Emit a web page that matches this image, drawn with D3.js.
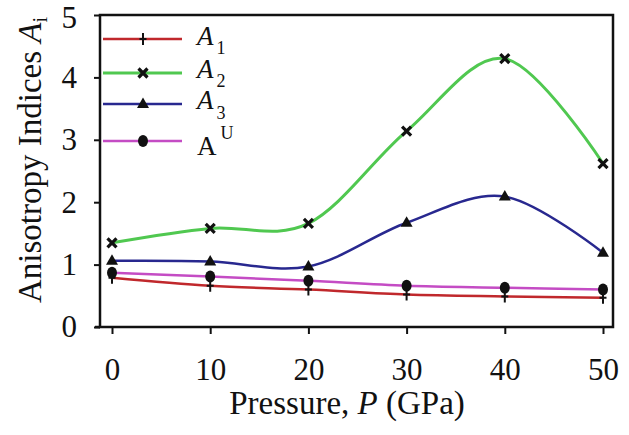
<!DOCTYPE html>
<html lang="en">
<head>
    <meta charset="utf-8">
    <title>Anisotropy indices vs pressure</title>
    <script type="text/javascript" src="https://cdn.jsdelivr.net/npm/d3@7"></script>
    <style type="text/css">
        body { margin: 0; background: #fff; }
        text { font-family: "Liberation Serif", "Times New Roman", serif; fill: #111; }
    </style>
</head>
<body>
    <script type="text/javascript">

			//Width and height
			var w = 629;
			var h = 435;

			//Data
			var pressure = [0, 10, 20, 30, 40, 50];
			var a1 = [0.79, 0.66, 0.60, 0.52, 0.49, 0.47];
			var a2 = [1.35, 1.58, 1.66, 3.14, 4.30, 2.62];
			var a3 = [1.06, 1.05, 0.97, 1.67, 2.09, 1.19];
			var aU = [0.87, 0.81, 0.74, 0.66, 0.63, 0.60];
			var xTicks = [0, 10, 20, 30, 40, 50];
			var yTicks = [0, 1, 2, 3, 4, 5];

			var series = [
				{ name: "A", sub: "1", italic: true, values: a1, color: "#c0282c", marker: "plus", width: 2.5 },
				{ name: "A", sub: "2", italic: true, values: a2, color: "#50c850", marker: "cross", width: 3 },
				{ name: "A", sub: "3", italic: true, values: a3, color: "#28288f", marker: "triangle", width: 2.5 },
				{ name: "A", sup: "U", italic: false, values: aU, color: "#c44cc4", marker: "circle", width: 2.5 }
			];

			//Plot box
			var box = { left: 100, right: 613, top: 15, bottom: 327 };

			var x = d3.scaleLinear().domain([0, 50]).range([112, 603]);
			var y = d3.scaleLinear().domain([0, 5]).range([327, 15]);

			var svg = d3.select("body")
						.append("svg")
						.attr("width", w)
						.attr("height", h);

			//Axes
			var yAxis = svg.append("g")
				.attr("transform", "translate(" + box.left + ",0)")
				.call(d3.axisLeft(y).tickValues(yTicks).tickSize(6).tickPadding(17).tickFormat(d3.format("d")));
			var xAxis = svg.append("g")
				.attr("transform", "translate(0," + box.bottom + ")")
				.call(d3.axisBottom(x).tickValues(xTicks).tickSize(7).tickPadding(24).tickFormat(d3.format("d")));

			[xAxis, yAxis].forEach(function(g) {
				g.select(".domain").remove();
				g.selectAll(".tick line").attr("stroke", "#111").attr("stroke-width", 2);
				g.selectAll(".tick text").style("font-size", "31px").attr("fill", "#111")
				 .style("font-family", "'Liberation Serif', serif");
			});
			yAxis.select(".tick:last-of-type text").attr("dy", "0.4em");

			//Frame
			svg.append("rect")
				.attr("x", box.left)
				.attr("y", box.top)
				.attr("width", box.right - box.left)
				.attr("height", box.bottom - box.top)
				.attr("fill", "none")
				.attr("stroke", "#111")
				.attr("stroke-width", 2.5);
			svg.append("line")
				.attr("x1", box.left - 5).attr("x2", box.left)
				.attr("y1", box.bottom).attr("y2", box.bottom)
				.attr("stroke", "#111").attr("stroke-width", 2.5);

			//Smooth lines
			var line = d3.line()
				.x(function(d, i) { return x(pressure[i]); })
				.y(function(d) { return y(d); })
				.curve(d3.curveCardinal.tension(0));

			series.forEach(function(s) {
				svg.append("path")
					.datum(s.values)
					.attr("d", line)
					.attr("fill", "none")
					.attr("stroke", s.color)
					.attr("stroke-width", s.width);
			});

			//Markers
			function drawMarker(g, type, cx, cy) {
				if (type == "plus") {
					g.append("path")
						.attr("d", "M" + cx + "," + (cy - 6) + "V" + (cy + 6) + "M" + (cx - 3.5) + "," + cy + "H" + (cx + 3.5))
						.attr("stroke", "#111").attr("stroke-width", 2).attr("fill", "none");
				} else if (type == "cross") {
					g.append("path")
						.attr("d", "M" + (cx - 4.5) + "," + (cy - 4.5) + "L" + (cx + 4.5) + "," + (cy + 4.5) +
							"M" + (cx - 4.5) + "," + (cy + 4.5) + "L" + (cx + 4.5) + "," + (cy - 4.5))
						.attr("stroke", "#111").attr("stroke-width", 3.2).attr("fill", "none");
				} else if (type == "triangle") {
					g.append("path")
						.attr("d", "M" + cx + "," + (cy - 6.5) + "L" + (cx + 6) + "," + (cy + 4) + "L" + (cx - 6) + "," + (cy + 4) + "Z")
						.attr("fill", "#111");
				} else {
					g.append("ellipse")
						.attr("cx", cx).attr("cy", cy)
						.attr("rx", 5).attr("ry", 6)
						.attr("fill", "#111");
				}
			}

			series.forEach(function(s) {
				var g = svg.append("g");
				s.values.forEach(function(v, i) {
					drawMarker(g, s.marker, x(pressure[i]), y(v));
				});
			});

			//Legend
			var legendY = [39, 73, 104, 141];
			var legendLabelY = [45, 78, 109, 155];
			series.forEach(function(s, i) {
				var g = svg.append("g");
				g.append("line")
					.attr("x1", 103).attr("x2", 182)
					.attr("y1", legendY[i]).attr("y2", legendY[i])
					.attr("stroke", s.color)
					.attr("stroke-width", s.width);
				drawMarker(g, s.marker, 143, legendY[i]);

				var t = g.append("text")
					.attr("x", 197)
					.attr("y", legendLabelY[i])
					.style("font-size", "27px");
				t.append("tspan")
					.style("font-style", s.italic ? "italic" : "normal")
					.text(s.name);
				if (s.sub) {
					t.append("tspan")
						.attr("dx", 3)
						.attr("dy", i == 2 ? 10 : 9)
						.style("font-size", "18px")
						.text(s.sub);
				} else {
					t.append("tspan")
						.attr("dx", 4)
						.attr("dy", -16)
						.style("font-size", "18px")
						.text(s.sup);
				}
			});

			//Axis titles
			var xTitle = svg.append("text")
				.attr("x", 347)
				.attr("y", 414)
				.attr("text-anchor", "middle")
				.style("font-size", "33px");
			xTitle.append("tspan").text("Pressure, ");
			xTitle.append("tspan").style("font-style", "italic").text("P");
			xTitle.append("tspan").text(" (GPa)");

			var yTitle = svg.append("text")
				.attr("transform", "translate(41,160) rotate(-90)")
				.attr("text-anchor", "middle")
				.style("font-size", "33px");
			yTitle.append("tspan").text("Anisotropy Indices ");
			yTitle.append("tspan").style("font-style", "italic").text("A");
			yTitle.append("tspan").attr("dy", 6).style("font-size", "20px").text("i");

    </script>
</body>
</html>
